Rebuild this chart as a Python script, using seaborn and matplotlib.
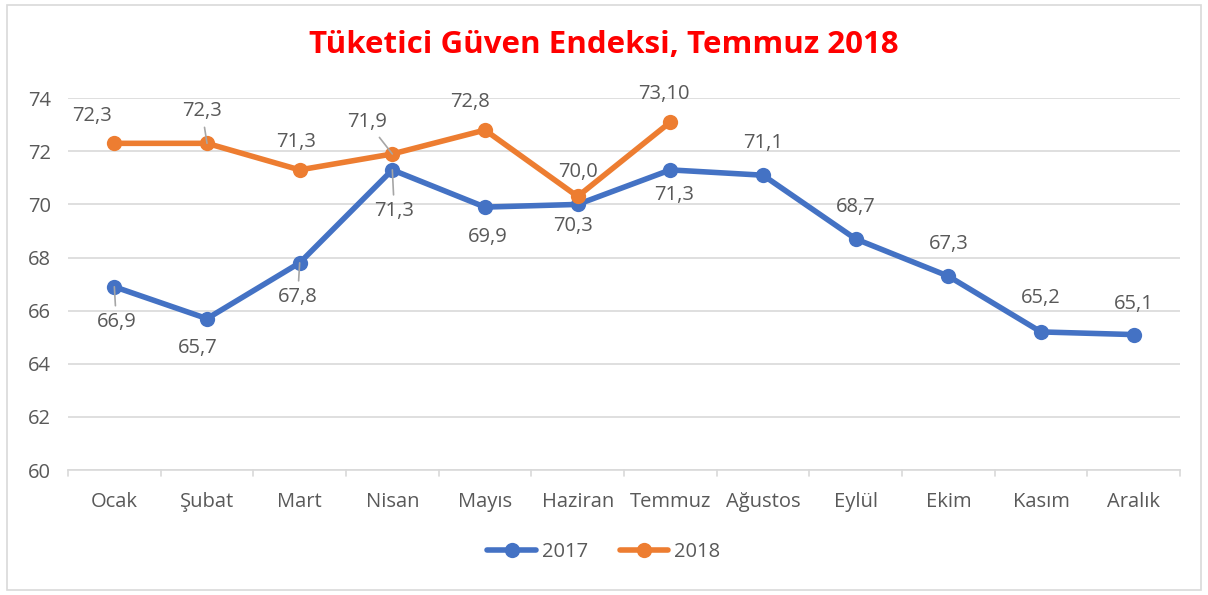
import matplotlib
matplotlib.use("Agg")
import matplotlib.pyplot as plt
import seaborn as sns
import pandas as pd
from matplotlib.patches import Rectangle

months = ["Ocak", "Şubat", "Mart", "Nisan", "Mayıs", "Haziran", "Temmuz",
          "Ağustos", "Eylül", "Ekim", "Kasım", "Aralık"]
vals_2017 = [66.9, 65.7, 67.8, 71.3, 69.9, 70.0, 71.3, 71.1, 68.7, 67.3, 65.2, 65.1]
vals_2018 = [72.3, 72.3, 71.3, 71.9, 72.8, 70.3, 73.1]
labels_2017 = ["66,9", "65,7", "67,8", "71,3", "69,9", "70,3", "71,3",
               "71,1", "68,7", "67,3", "65,2", "65,1"]
labels_2018 = ["72,3", "72,3", "71,3", "71,9", "72,8", "70,0", "73,10"]
title = "Tüketici Güven Endeksi, Temmuz 2018"

df = pd.concat([
    pd.DataFrame({"x": range(len(vals_2017)), "v": vals_2017, "Yıl": "2017"}),
    pd.DataFrame({"x": range(len(vals_2018)), "v": vals_2018, "Yıl": "2018"}),
])

sns.set_theme(style="white")
plt.rcParams["font.family"] = ["Open Sans", "DejaVu Sans"]
txt = "#595959"
blue, orange = "#4472C4", "#ED7D31"
fs = 14.5

fig = plt.figure(figsize=(12.08, 5.95), dpi=100)
ax = fig.add_axes([0.0563, 0.210, 0.9205, 0.625])

sns.lineplot(data=df, x="x", y="v", hue="Yıl", palette=[blue, orange],
             marker="o", markersize=11, markeredgewidth=0, linewidth=4,
             sort=False, ax=ax, legend=True)

ax.set_xlim(-0.5, 11.5)
ax.set_ylim(60, 74)
ax.set_yticks(range(60, 75, 2))
ax.set_xticks(range(12))
ax.set_xticklabels(months)
ax.set_xlabel("")
ax.set_ylabel("")
ax.yaxis.grid(True, color="#D9D9D9", linewidth=1.2)
ax.set_axisbelow(True)
for s in ["top", "right", "left"]:
    ax.spines[s].set_visible(False)
ax.spines["bottom"].set_color("#D9D9D9")
ax.spines["bottom"].set_linewidth(1.2)
ax.tick_params(axis="both", labelsize=fs, colors=txt, length=0, pad=16)
ax.tick_params(axis="y", pad=12)
for i in range(13):
    ax.plot([i - 0.5, i - 0.5], [60, 59.78], color="#D9D9D9", lw=1.2, clip_on=False)

# label offsets in pixels (dx, dy)
off_2017 = [(2, -35), (-9, -29), (-2, -34), (2, -41), (3, -30), (-5, -22), (4, -25),
            (0, 32), (0, 32), (0, 32), (0, 34), (0, 31)]
off_2018 = [(-22, 27), (-5, 32), (-4, 28), (-25, 32), (-15, 28), (0, 24), (-6, 28)]
lead_2017 = {0, 2, 3}
lead_2018 = {1, 3}

def put(vals, labs, offs, leads):
    for i, (v, l, o) in enumerate(zip(vals, labs, offs)):
        ap = None
        if i in leads:
            ap = dict(arrowstyle="-", color="#A6A6A6", lw=1.2, shrinkA=2, shrinkB=0)
        ax.annotate(l, (i, v), xytext=o, textcoords="offset pixels",
                    ha="center", va="center", fontsize=fs, color=txt,
                    arrowprops=ap, zorder=5)

put(vals_2017, labels_2017, off_2017, lead_2017)
put(vals_2018, labels_2018, off_2018, lead_2018)

h, l = ax.get_legend_handles_labels()
ax.get_legend().remove()
fig.legend(h, l, loc="center", bbox_to_anchor=(0.5, 1 - 552 / 595), ncol=2,
           frameon=False, fontsize=fs, labelcolor=txt, handlelength=2.4,
           columnspacing=1.6, handletextpad=0.3)

fig.text(0.5, 1 - 45 / 595, title, ha="center", va="center", color="#FF0000",
         fontsize=22.5, fontweight="bold")

fig.patches.append(Rectangle((0.006, 0.008), 0.988, 0.984, transform=fig.transFigure,
                             fill=False, edgecolor="#D9D9D9", linewidth=1.2))

fig.savefig("out.png", dpi=100)
